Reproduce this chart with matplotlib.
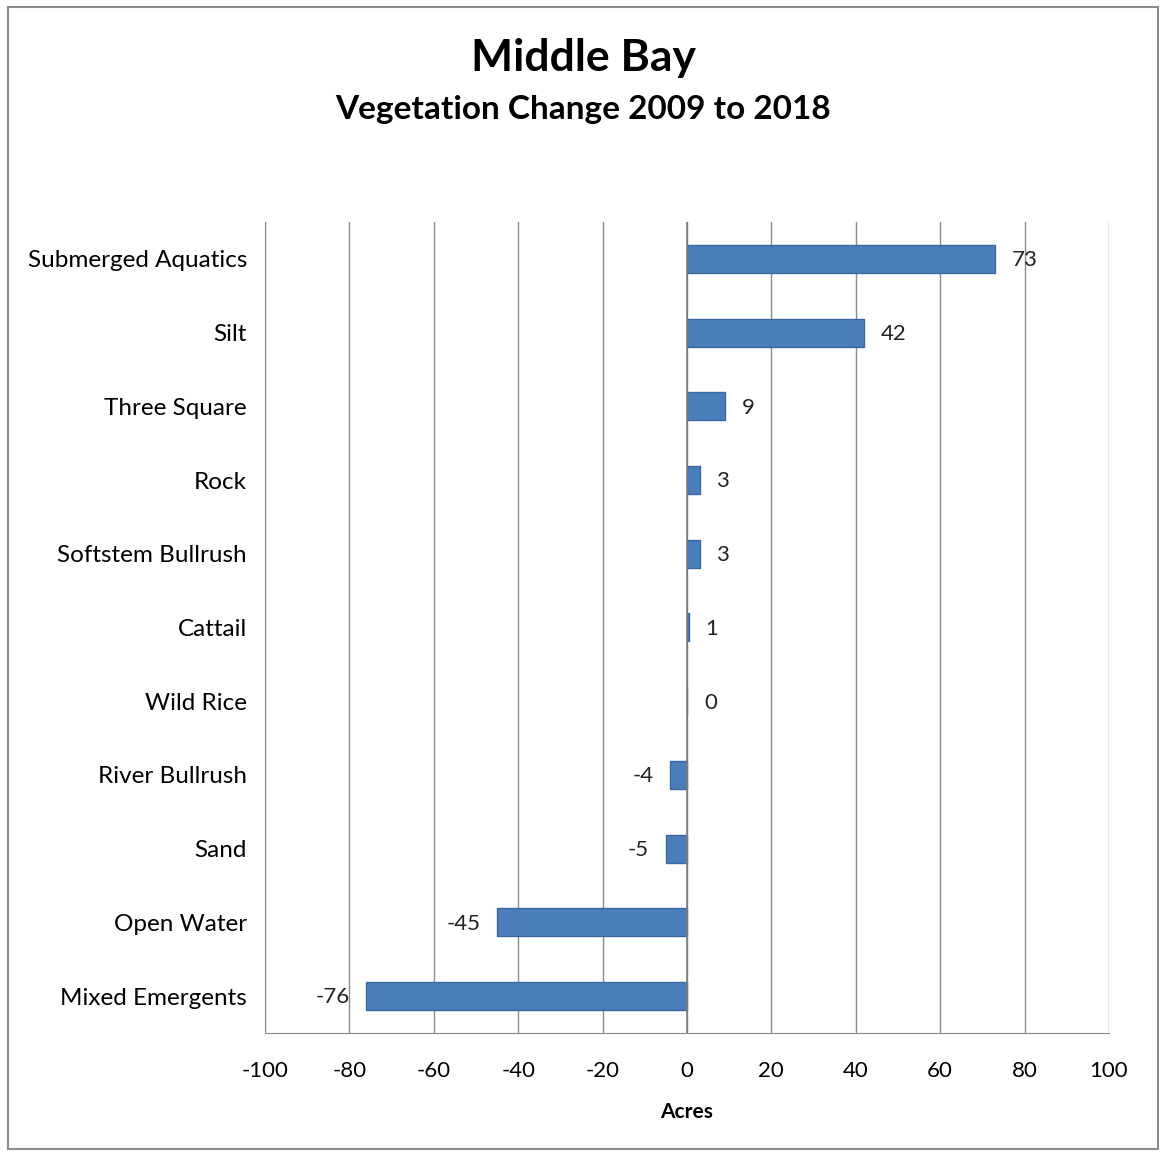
import matplotlib.pyplot as plt
from matplotlib.patches import Rectangle

categories = ['Submerged Aquatics', 'Silt', 'Three Square', 'Rock', 'Softstem Bullrush',
              'Cattail', 'Wild Rice', 'River Bullrush', 'Sand', 'Open Water', 'Mixed Emergents']
change = [73, 42, 9, 3, 3, 0.4, 0.1, -4, -5, -45, -76]
labels = ['73', '42', '9', '3', '3', '1', '0', '-4', '-5', '-45', '-76']
xticks = [-100, -80, -60, -40, -20, 0, 20, 40, 60, 80, 100]

plt.rcParams['font.family'] = ['Lato', 'DejaVu Sans']

fig = plt.figure(figsize=(11.6, 11.54), dpi=100)
ax = fig.add_axes([0.2284, 0.1049, 0.7276, 0.7027])

pos = list(range(len(categories)))
ax.barh(pos, change, height=0.38, color='#4a7ebb', edgecolor='#3a68a3', linewidth=1, zorder=3)

for p, v, lab in zip(pos, change, labels):
    if v >= 0:
        ax.annotate(lab, (v, p), xytext=(12, -1), textcoords='offset points',
                    ha='left', va='center', fontsize=16, color='#222222')
    else:
        ax.annotate(lab, (v, p), xytext=(-12, -1), textcoords='offset points',
                    ha='right', va='center', fontsize=16, color='#222222')

ax.set_xlim(-100, 100)
ax.set_ylim(10.5, -0.5)
ax.set_xticks(xticks)
ax.set_xticklabels([str(t) for t in xticks], fontsize=16)
ax.set_yticks(pos)
ax.set_yticklabels(categories, fontsize=17.5)
ax.tick_params(length=0)
ax.tick_params(axis='x', pad=20)
ax.tick_params(axis='y', pad=13)
ax.xaxis.grid(True, color='#8c8c8c', linewidth=1, zorder=0)
ax.axvline(0, color='#7f7f7f', linewidth=1.2, zorder=4)
for s in ['top', 'right']:
    ax.spines[s].set_visible(False)
for s in ['left', 'bottom']:
    ax.spines[s].set_color('#8c8c8c')
ax.set_xlabel('Acres', fontsize=15, fontweight='bold', labelpad=15)

fig.text(0.503, 0.95, 'Middle Bay', ha='center', va='center', fontsize=32, fontweight='bold')
fig.text(0.503, 0.905, 'Vegetation Change 2009 to 2018', ha='center', va='center',
         fontsize=24, fontweight='bold')

fig.patches.append(Rectangle((0.007, 0.004), 0.991, 0.99, transform=fig.transFigure,
                             fill=False, edgecolor='#8c8c8c', linewidth=1.5))

fig.savefig('out.png', dpi=100)
